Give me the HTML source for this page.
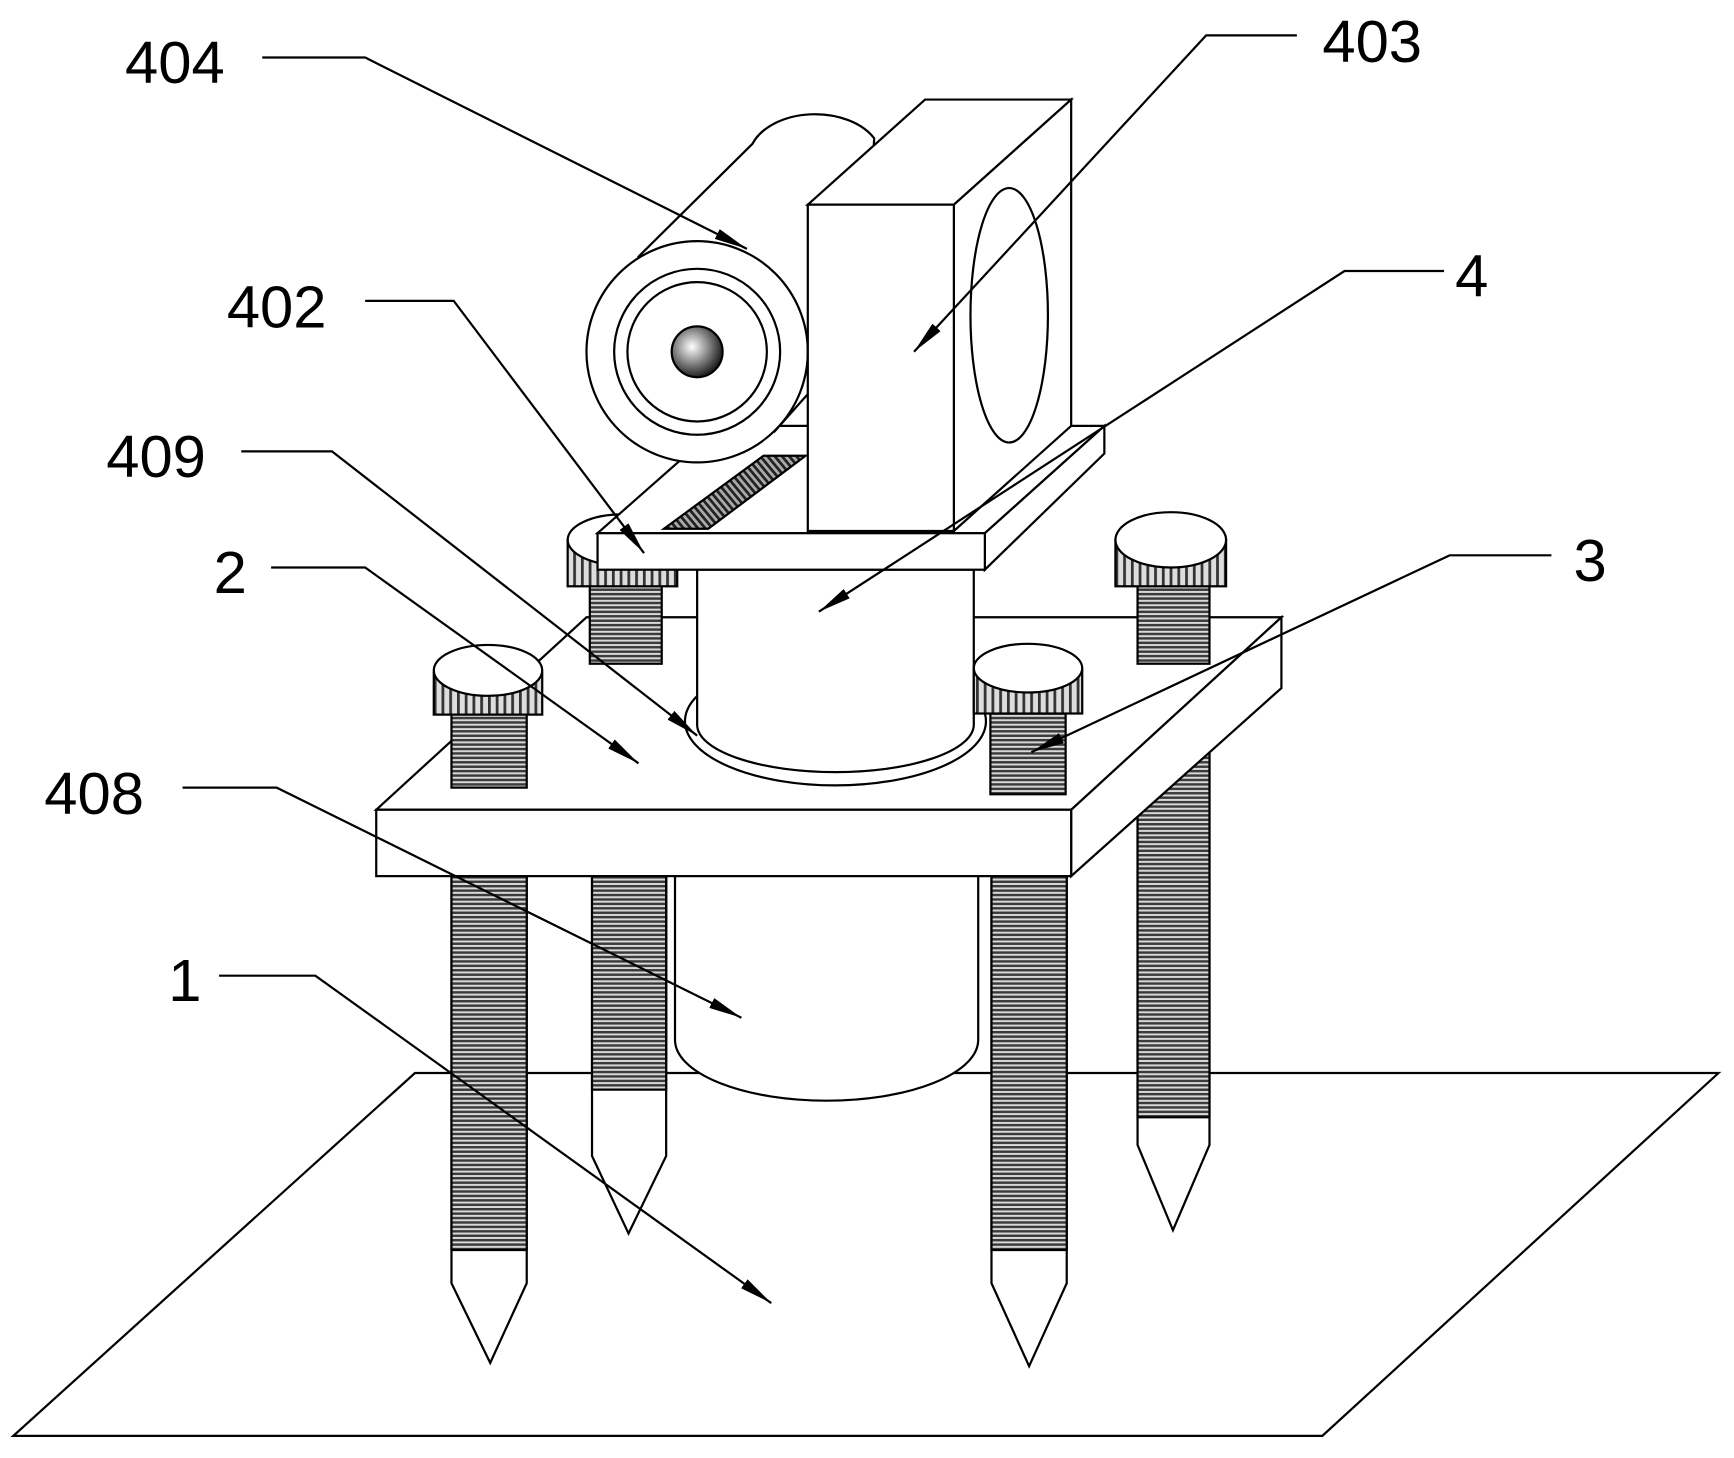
<!DOCTYPE html>
<html><head><meta charset="utf-8"><style>html,body{margin:0;padding:0;background:#fff}svg{display:block}</style></head>
<body>
<svg width="1734" height="1458" viewBox="0 0 1567 1318" preserveAspectRatio="none" xmlns="http://www.w3.org/2000/svg">
<defs>
<pattern id="thr" width="8" height="4" patternUnits="userSpaceOnUse">
<rect width="8" height="4" fill="#d8d8d8"/><rect y="0" width="8" height="2.2" fill="#3a3a3a"/></pattern>
<pattern id="knurl" width="7" height="8" patternUnits="userSpaceOnUse">
<rect width="7" height="8" fill="#ddd"/><rect x="0" width="2.5" height="8" fill="#333"/></pattern>
<pattern id="hatch" width="5" height="5" patternUnits="userSpaceOnUse" patternTransform="rotate(-40)">
<rect width="5" height="5" fill="#aaa"/><rect width="2.5" height="5" fill="#222"/></pattern>
<radialGradient id="ball" cx="0.4" cy="0.4" r="0.6"><stop offset="0" stop-color="#fff"/><stop offset="1" stop-color="#222"/></radialGradient>
<marker id="ar" viewBox="0 0 30 10" refX="30" refY="5" markerWidth="30" markerHeight="10" markerUnits="userSpaceOnUse" orient="auto"><path d="M0,0 L30,5 L0,10 z" fill="#000"/></marker>
</defs>
<g fill="#fff" stroke="#000" stroke-width="2">
<polygon points="375,970 1553,970 1195,1298 12,1298"/>
<polygon points="1028,680 1093,680 1093,1035 1060,1112 1028,1035"/>
<rect x="1028" y="680" width="65" height="330" fill="url(#thr)"/>
<polygon points="535,780 602,780 602,1045 568,1115 535,1045"/>
<rect x="535" y="780" width="67" height="205" fill="url(#thr)"/>
<path d="M610,790 L610,940 A137,55 0 0 0 884,940 L884,790 Z"/>
<line x1="602" y1="792" x2="602" y2="960"/>
<polygon points="408,792 476,792 476,1160 443,1232 408,1160"/>
<rect x="408" y="792" width="68" height="338" fill="url(#thr)"/>
<polygon points="896,792 964,792 964,1160 930,1235 896,1160"/>
<rect x="896" y="792" width="68" height="338" fill="url(#thr)"/>
<polygon points="340,732 530,558 1158,558 968,732"/>
<polygon points="968,732 1158,558 1158,622 968,792"/>
<rect x="340" y="732" width="628" height="60"/>
<rect x="1028" y="525" width="65" height="75" fill="url(#thr)"/>
<rect x="1008" y="488" width="100" height="42" fill="url(#knurl)"/>
<ellipse cx="1058" cy="488" rx="50" ry="25"/>
<rect x="533" y="525" width="65" height="75" fill="url(#thr)"/>
<rect x="513" y="488" width="99" height="42" fill="url(#knurl)"/>
<ellipse cx="562" cy="488" rx="49" ry="23"/>
<ellipse cx="755" cy="652" rx="136" ry="58"/>
<path d="M630,515 L630,655 A125,43 0 0 0 880,655 L880,515 Z"/>
<rect x="408" y="640" width="68" height="72" fill="url(#thr)"/>
<rect x="392" y="608" width="98" height="38" fill="url(#knurl)"/>
<ellipse cx="441" cy="606" rx="49" ry="23"/>
<rect x="895" y="640" width="68" height="78" fill="url(#thr)"/>
<rect x="880" y="605" width="98" height="40" fill="url(#knurl)"/>
<ellipse cx="929" cy="604" rx="49" ry="22"/>
<polygon points="540,482 650,385 998,385 890,482"/>
<polygon points="890,482 998,385 998,410 890,515"/>
<path d="M577,232 L680,130 A60,40 0 0 1 790,125 L780,300 L700,390 Z"/>
<polygon points="600,478 640,478 728,412 690,412" fill="url(#hatch)"/>
<circle cx="630" cy="318" r="100"/>
<circle cx="630" cy="318" r="75"/>
<circle cx="630" cy="318" r="63"/>
<circle cx="630" cy="318" r="23" fill="url(#ball)"/>
<polygon points="730,185 836,90 968,90 862,185"/>
<polygon points="862,185 968,90 968,385 862,480"/>
<ellipse cx="912" cy="285" rx="35" ry="115"/>
<rect x="730" y="185" width="132" height="295"/>
<rect x="540" y="482" width="350" height="33"/>
</g>
<g fill="none" stroke="#000" stroke-width="2" marker-end="url(#ar)">
<polyline points="237,52 330,52 675,225"/>
<polyline points="1172,32 1090,32 826,318"/>
<polyline points="1305,245 1215,245 740,553"/>
<polyline points="330,272 410,272 582,500"/>
<polyline points="218,408 300,408 630,665"/>
<polyline points="245,513 330,513 577,690"/>
<polyline points="1402,502 1310,502 932,680"/>
<polyline points="165,712 250,712 670,920"/>
<polyline points="198,882 285,882 697,1178"/>
</g>
<g font-family="Liberation Sans, sans-serif" font-size="54" fill="#000">
<text x="113" y="75">404</text>
<text x="1195" y="56">403</text>
<text x="1315" y="268">4</text>
<text x="205" y="296">402</text>
<text x="96" y="431">409</text>
<text x="193" y="536">2</text>
<text x="1422" y="525">3</text>
<text x="40" y="736">408</text>
<text x="152" y="905">1</text>
</g>
</svg>
</body></html>
